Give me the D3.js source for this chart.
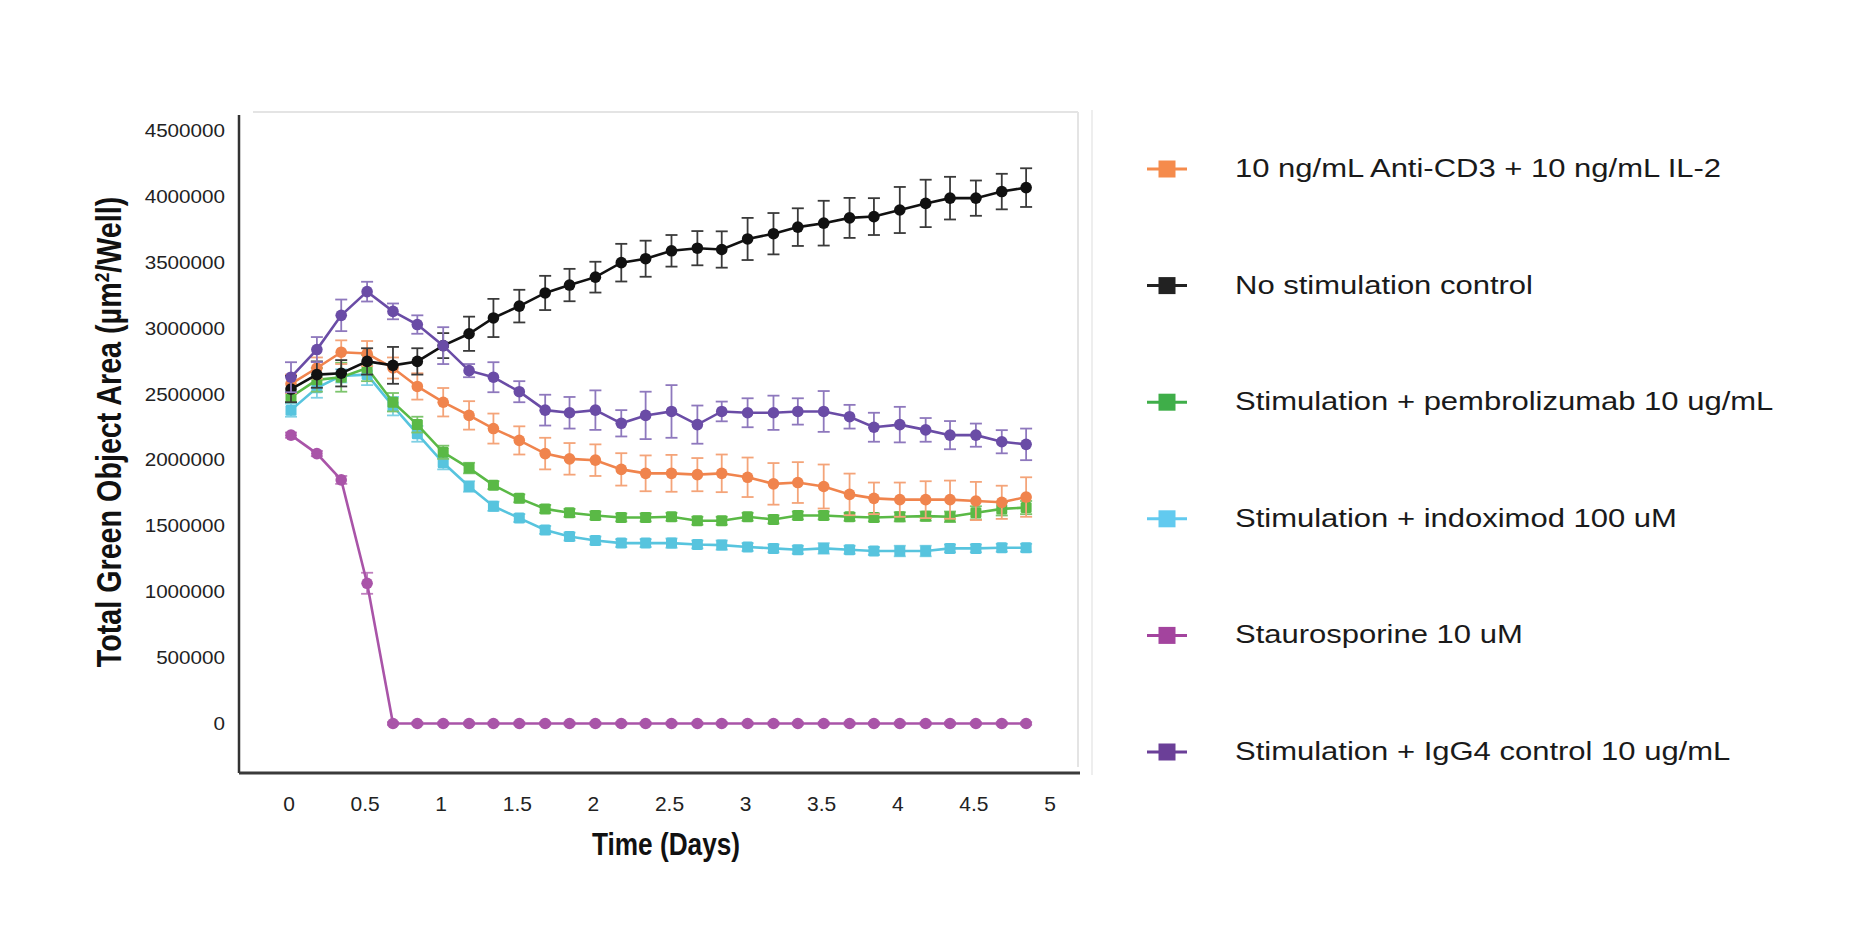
<!DOCTYPE html>
<html>
<head>
<meta charset="utf-8">
<script src="https://cdn.jsdelivr.net/npm/d3@7"></script>
<style>
  body { margin: 0; background: #fff; }
  svg { display: block; font-family: "Liberation Sans", Arial, sans-serif; }
</style>
</head>
<body>
<svg id="chart" width="1875" height="938"></svg>
<script>
// time points (days)
const times = [0, 0.17, 0.33, 0.5, 0.67, 0.83, 1, 1.17, 1.33, 1.5, 1.67, 1.83, 2, 2.17, 2.33,
               2.5, 2.67, 2.83, 3, 3.17, 3.33, 3.5, 3.67, 3.83, 4, 4.17, 4.33, 4.5, 4.67, 4.83];

const seriesNames = ['10 ng/mL Anti-CD3 + 10 ng/mL IL-2', 'No stimulation control',
  'Stimulation + pembrolizumab 10 ug/mL', 'Stimulation + indoximod 100 uM',
  'Staurosporine 10 uM', 'Stimulation + IgG4 control 10 ug/mL'];

// values in millions of um2/well
const antiCD3 = [2.58, 2.70, 2.82, 2.81, 2.70, 2.56, 2.44, 2.34, 2.24, 2.15, 2.05, 2.01, 2.00, 1.93, 1.90,
                 1.90, 1.89, 1.90, 1.87, 1.82, 1.83, 1.80, 1.74, 1.71, 1.70, 1.70, 1.70, 1.69, 1.68, 1.72];
const antiCD3Err = [0.07, 0.08, 0.09, 0.095, 0.08, 0.10, 0.108, 0.108, 0.114, 0.107, 0.12, 0.12, 0.12, 0.123, 0.136,
                    0.14, 0.126, 0.143, 0.15, 0.158, 0.155, 0.167, 0.158, 0.12, 0.13, 0.14, 0.145, 0.145, 0.126, 0.15];

const noStim = [2.54, 2.65, 2.66, 2.75, 2.72, 2.75, 2.87, 2.96, 3.08, 3.17, 3.27, 3.33, 3.39, 3.50, 3.53,
                3.59, 3.61, 3.60, 3.68, 3.72, 3.77, 3.80, 3.84, 3.85, 3.90, 3.95, 3.99, 3.99, 4.04, 4.07];
const noStimErr = [0.1, 0.1, 0.1, 0.1, 0.14, 0.1, 0.095, 0.13, 0.145, 0.124, 0.13, 0.123, 0.117, 0.143, 0.137,
                   0.12, 0.13, 0.138, 0.16, 0.157, 0.143, 0.17, 0.152, 0.14, 0.175, 0.18, 0.162, 0.134, 0.135, 0.147];

const pembro = [2.48, 2.61, 2.63, 2.70, 2.44, 2.27, 2.06, 1.94, 1.81, 1.71, 1.63, 1.60, 1.58, 1.565, 1.565,
                1.57, 1.54, 1.54, 1.57, 1.55, 1.58, 1.58, 1.57, 1.565, 1.57, 1.575, 1.57, 1.60, 1.63, 1.64];
const pembroErr = [0.04, 0.09, 0.11, 0.1, 0.07, 0.06, 0.05, 0.04, 0.03, 0.03, 0.03, 0.03, 0.03, 0.03, 0.03,
                   0.03, 0.03, 0.03, 0.03, 0.03, 0.03, 0.03, 0.03, 0.03, 0.035, 0.035, 0.04, 0.05, 0.05, 0.05];

const indox = [2.38, 2.55, 2.64, 2.65, 2.41, 2.20, 1.98, 1.80, 1.65, 1.56, 1.47, 1.42, 1.39, 1.37, 1.37,
               1.37, 1.36, 1.355, 1.34, 1.33, 1.32, 1.33, 1.32, 1.31, 1.31, 1.31, 1.33, 1.33, 1.335, 1.335];
const indoxErr = [0.05, 0.076, 0.05, 0.08, 0.07, 0.06, 0.05, 0.04, 0.035, 0.03, 0.03, 0.03, 0.03, 0.03, 0.03,
                  0.035, 0.03, 0.035, 0.03, 0.03, 0.03, 0.04, 0.03, 0.03, 0.04, 0.04, 0.03, 0.03, 0.03, 0.03];

const stauro = [2.19, 2.05, 1.85, 1.065, 0, 0, 0, 0, 0, 0, 0, 0, 0, 0, 0,
                0, 0, 0, 0, 0, 0, 0, 0, 0, 0, 0, 0, 0, 0, 0];
const stauroErr = [0.02, 0.02, 0.03, 0.08, 0.01, 0.01, 0.01, 0.01, 0.01, 0.01, 0.01, 0.01, 0.01, 0.01, 0.01,
                   0.01, 0.01, 0.01, 0.01, 0.01, 0.01, 0.01, 0.01, 0.01, 0.01, 0.01, 0.01, 0.01, 0.01, 0.01];

const igg4 = [2.63, 2.84, 3.10, 3.28, 3.13, 3.03, 2.87, 2.68, 2.63, 2.52, 2.38, 2.36, 2.38, 2.28, 2.34,
              2.37, 2.27, 2.37, 2.36, 2.36, 2.37, 2.37, 2.33, 2.25, 2.27, 2.23, 2.19, 2.19, 2.14, 2.12];
const igg4Err = [0.114, 0.095, 0.12, 0.075, 0.06, 0.07, 0.14, 0.05, 0.114, 0.08, 0.117, 0.12, 0.15, 0.1, 0.18,
                 0.2, 0.145, 0.075, 0.11, 0.13, 0.1, 0.155, 0.09, 0.11, 0.135, 0.09, 0.107, 0.088, 0.088, 0.12];

const yTicks = [0, 500000, 1000000, 1500000, 2000000, 2500000, 3000000, 3500000, 4000000, 4500000];
const xTicks = [0, 0.5, 1, 1.5, 2, 2.5, 3, 3.5, 4, 4.5, 5];

// line / marker colours and legend colours
const lineColors = ['#f0844d', '#111111', '#5ab946', '#57c4de', '#a954a8', '#6a4ca6'];
const legendColors = ['#f58b4c', '#222222', '#3fae49', '#62caef', '#a3449e', '#6b3f98'];
const barColors = ['#f4a479', '#3a3a3a', '#7cc46c', '#7fd0e4', '#bf7fbe', '#8e78bd'];
const squareMarker = [false, false, true, true, false, false];

const seriesVals = [antiCD3, noStim, pembro, indox, stauro, igg4];
const seriesErrs = [antiCD3Err, noStimErr, pembroErr, indoxErr, stauroErr, igg4Err];

const series = seriesNames.map((name, k) => ({
  name, k,
  pts: times.map((t, i) => ({ t, v: seriesVals[k][i] * 1e6, e: seriesErrs[k][i] * 1e6 }))
}));

const svg = d3.select('#chart');

// frame
const frameLeft = 239, frameRight = 1078, frameTop = 112, frameBottom = 773;

const x = d3.scaleLinear().domain([0, 5]).range([291, 1052]);
const y = d3.scaleLinear().domain([0, 4500000]).range([723.5, 131]);

// light plot border (top / right) and outer faint line
svg.append('line').attr('x1', frameLeft + 14).attr('x2', frameRight).attr('y1', frameTop).attr('y2', frameTop)
  .attr('stroke', '#e4e4e4').attr('stroke-width', 2);
svg.append('line').attr('x1', frameRight).attr('x2', frameRight).attr('y1', frameTop).attr('y2', frameBottom - 6)
  .attr('stroke', '#e4e4e4').attr('stroke-width', 2);
svg.append('line').attr('x1', frameRight + 14).attr('x2', frameRight + 14).attr('y1', frameTop - 2).attr('y2', frameBottom + 2)
  .attr('stroke', '#eeeeee').attr('stroke-width', 2);

// axes lines
svg.append('line').attr('x1', frameLeft).attr('x2', frameLeft).attr('y1', frameTop + 3).attr('y2', frameBottom)
  .attr('stroke', '#333').attr('stroke-width', 2.5);
svg.append('line').attr('x1', frameLeft).attr('x2', frameRight + 2).attr('y1', frameBottom).attr('y2', frameBottom)
  .attr('stroke', '#3a3a3a').attr('stroke-width', 3);

// y tick labels
svg.append('g').selectAll('text')
  .data(yTicks)
  .enter()
  .append('text')
  .attr('transform', d => `translate(225,${y(d)}) scale(1.18,1)`)
  .attr('dy', '0.36em')
  .attr('text-anchor', 'end')
  .attr('font-size', '17.5px')
  .attr('fill', '#222')
  .text(d => d);

// x tick labels
svg.append('g').selectAll('text')
  .data(xTicks)
  .enter()
  .append('text')
  .attr('transform', d => `translate(${x(d) - 2},811) scale(1.05,1)`)
  .attr('text-anchor', 'middle')
  .attr('font-size', '20px')
  .attr('fill', '#222')
  .text(d => d);

// axis titles
svg.append('text')
  .attr('transform', 'translate(666,855) scale(0.82,1)')
  .attr('text-anchor', 'middle')
  .attr('font-size', '32px')
  .attr('font-weight', 'bold')
  .attr('fill', '#111')
  .text('Time (Days)');

const yTitle = svg.append('text')
  .attr('transform', 'translate(121,432) rotate(-90) scale(0.82,1)')
  .attr('text-anchor', 'middle')
  .attr('font-size', '35px')
  .attr('font-weight', 'bold')
  .attr('fill', '#111');
yTitle.append('tspan').text('Total Green Object Area (\u00b5m');
yTitle.append('tspan').attr('font-size', '21px').attr('dy', '-12').text('2');
yTitle.append('tspan').attr('dy', '12').text('/Well)');

// draw series
const line = d3.line().x(d => x(d.t)).y(d => y(d.v));
const drawOrder = [4, 3, 2, 0, 1, 5];

drawOrder.forEach(k => {
  const s = series[k];
  const g = svg.append('g');

  // error bars
  const eb = g.selectAll('g.err').data(s.pts).enter().append('g')
    .attr('stroke', barColors[k]).attr('stroke-width', 1.8);
  eb.append('line')
    .attr('x1', d => x(d.t)).attr('x2', d => x(d.t))
    .attr('y1', d => y(d.v - d.e)).attr('y2', d => y(d.v + d.e));
  eb.append('line')
    .attr('x1', d => x(d.t) - 6).attr('x2', d => x(d.t) + 6)
    .attr('y1', d => y(d.v + d.e)).attr('y2', d => y(d.v + d.e));
  eb.append('line')
    .attr('x1', d => x(d.t) - 6).attr('x2', d => x(d.t) + 6)
    .attr('y1', d => y(d.v - d.e)).attr('y2', d => y(d.v - d.e));

  g.append('path')
    .datum(s.pts)
    .attr('d', line)
    .attr('fill', 'none')
    .attr('stroke', lineColors[k])
    .attr('stroke-width', 2.6);

  if (squareMarker[k]) {
    g.selectAll('rect').data(s.pts).enter().append('rect')
      .attr('x', d => x(d.t) - 5.5).attr('y', d => y(d.v) - 5.5)
      .attr('width', 11).attr('height', 11).attr('rx', 1.5)
      .attr('fill', lineColors[k]);
  } else {
    g.selectAll('circle').data(s.pts).enter().append('circle')
      .attr('cx', d => x(d.t)).attr('cy', d => y(d.v))
      .attr('r', 5.8)
      .attr('fill', lineColors[k]);
  }
});

// legend
const legendY = d3.scaleLinear().domain([0, 5]).range([169, 752]);
const legend = svg.append('g').selectAll('g')
  .data(series)
  .enter()
  .append('g')
  .attr('transform', d => `translate(1167,${legendY(d.k)})`);

legend.append('line')
  .attr('x1', -20).attr('x2', 20)
  .attr('stroke', (d, i) => legendColors[i]).attr('stroke-width', 3);
legend.append('rect')
  .attr('x', -8.5).attr('y', -8.5).attr('width', 17).attr('height', 17)
  .attr('fill', (d, i) => legendColors[i]);
legend.append('text')
  .attr('transform', 'translate(68,8) scale(1.17,1)')
  .attr('font-size', '26.5px')
  .attr('fill', '#1a1a1a')
  .text(d => d.name);
</script>
</body>
</html>
